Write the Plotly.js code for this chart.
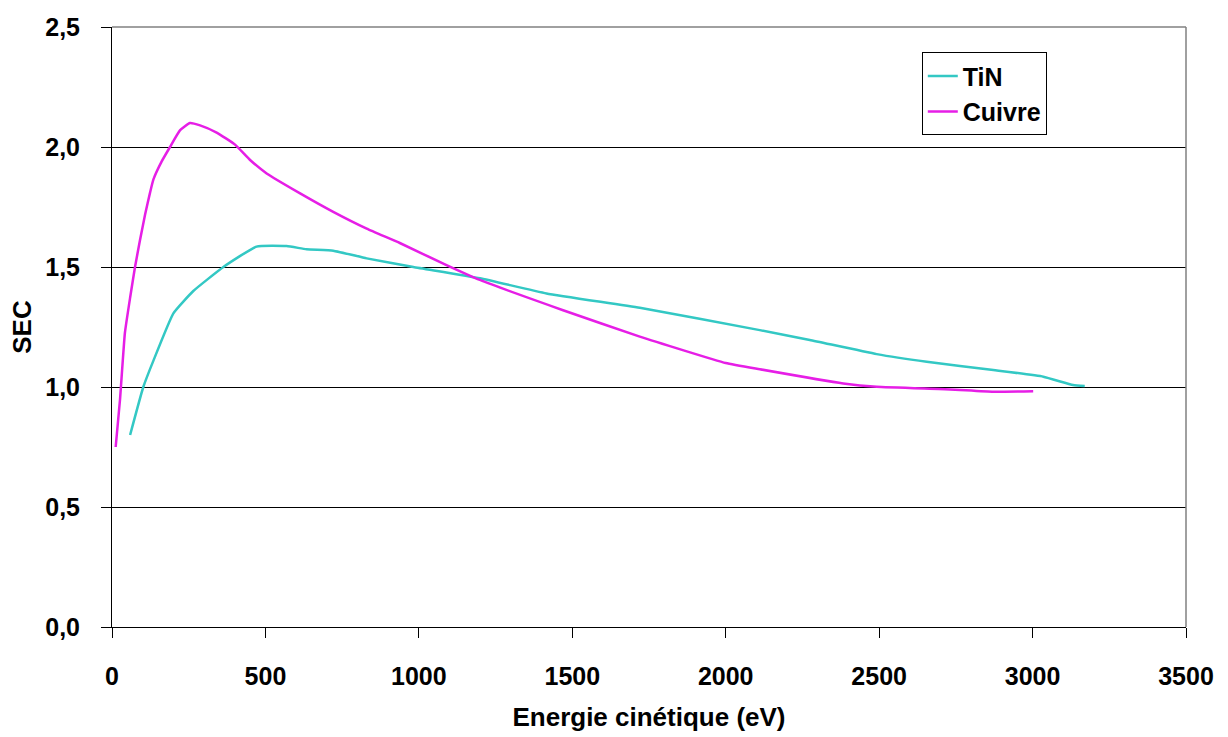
<!DOCTYPE html>
<html>
<head>
<meta charset="utf-8">
<script src="https://cdn.plot.ly/plotly-3.0.1.min.js"></script>
<style>html,body{margin:0;padding:0;background:#fff;}#chart{width:1228px;height:737px;}</style>
</head>
<body>
<div id="chart"></div>
<script>
const tinEnergy = [59, 102, 135, 200, 265, 363, 471, 569, 634, 721, 830, 982, 1199, 1416, 1720, 2111, 2274, 2492, 2655, 2872, 3035, 3132, 3170];
const tinSEC    = [0.80, 1.00, 1.11, 1.307, 1.40, 1.50, 1.585, 1.587, 1.574, 1.568, 1.536, 1.50, 1.453, 1.39, 1.33, 1.237, 1.196, 1.137, 1.105, 1.071, 1.043, 1.008, 1.004];

const cuEnergy = [12, 26, 42, 60, 75, 91, 108, 124, 135, 162, 189, 222, 254, 287, 341, 401, 450, 504, 613, 721, 830, 938, 1090, 1199, 1470, 1720, 2000, 2111, 2383, 2492, 2731, 2872, 3002];
const cuSEC    = [0.75, 0.946, 1.225, 1.38, 1.50, 1.61, 1.72, 1.81, 1.865, 1.94, 2.00, 2.07, 2.10, 2.09, 2.06, 2.01, 1.946, 1.89, 1.807, 1.73, 1.66, 1.60, 1.508, 1.446, 1.32, 1.21, 1.10, 1.074, 1.015, 1.001, 0.99, 0.98, 0.982];

const seriesNames = ['TiN', 'Cuivre'];
const xTicks = [0, 500, 1000, 1500, 2000, 2500, 3000, 3500];
const yTicks = [0, 0.5, 1.0, 1.5, 2.0, 2.5];

const fam = 'Liberation Sans, Arial, sans-serif';
const traces = [
  {x: tinEnergy, y: tinSEC, name: seriesNames[0], mode: 'lines', line: {color: '#33C8C4', width: 2.5, shape: 'spline', smoothing: 0.4}},
  {x: cuEnergy, y: cuSEC, name: seriesNames[1], mode: 'lines', line: {color: '#E61EE6', width: 2.5, shape: 'spline', smoothing: 0.4}}
];
const layout = {
  width: 1228, height: 737,
  margin: {l: 112, r: 42, t: 27, b: 110},
  paper_bgcolor: '#fff', plot_bgcolor: '#fff',
  separators: ', ',
  font: {family: fam, color: '#000'},
  xaxis: {
    range: [0, 3500], tickvals: xTicks, ticks: 'outside', ticklen: 10, tickcolor: '#000',
    showline: true, linecolor: '#000', linewidth: 1, showgrid: false, zeroline: false,
    tickfont: {family: fam, size: 25, weight: 'bold'}, ticklabelstandoff: 17,
    title: {text: 'Energie cinétique (eV)', font: {family: fam, size: 26, weight: 'bold'}, standoff: 18}
  },
  yaxis: {
    range: [0, 2.5], tickvals: yTicks, tickformat: '.1f', ticks: 'outside', ticklen: 10, tickcolor: '#000',
    showline: true, linecolor: '#000', linewidth: 1, showgrid: true, gridcolor: '#000', gridwidth: 1, zeroline: false,
    tickfont: {family: fam, size: 25, weight: 'bold'}, ticklabelstandoff: 16,
    title: {text: 'SEC', font: {family: fam, size: 26, weight: 'bold'}, standoff: 6}
  },
  legend: {
    x: 0.754, y: 0.958, xanchor: 'left', yanchor: 'top',
    bordercolor: '#000', borderwidth: 1, bgcolor: '#fff',
    font: {family: fam, size: 25, weight: 'bold'}
  },
  shapes: [
    {type: 'line', xref: 'paper', yref: 'paper', x0: 0, x1: 1, y0: 1, y1: 1, line: {color: '#808080', width: 1.5}},
    {type: 'line', xref: 'paper', yref: 'paper', x0: 1, x1: 1, y0: 0, y1: 1, line: {color: '#808080', width: 1.5}}
  ],
  showlegend: true
};
Plotly.newPlot('chart', traces, layout, {displayModeBar: false, staticPlot: true});
</script>
</body>
</html>
